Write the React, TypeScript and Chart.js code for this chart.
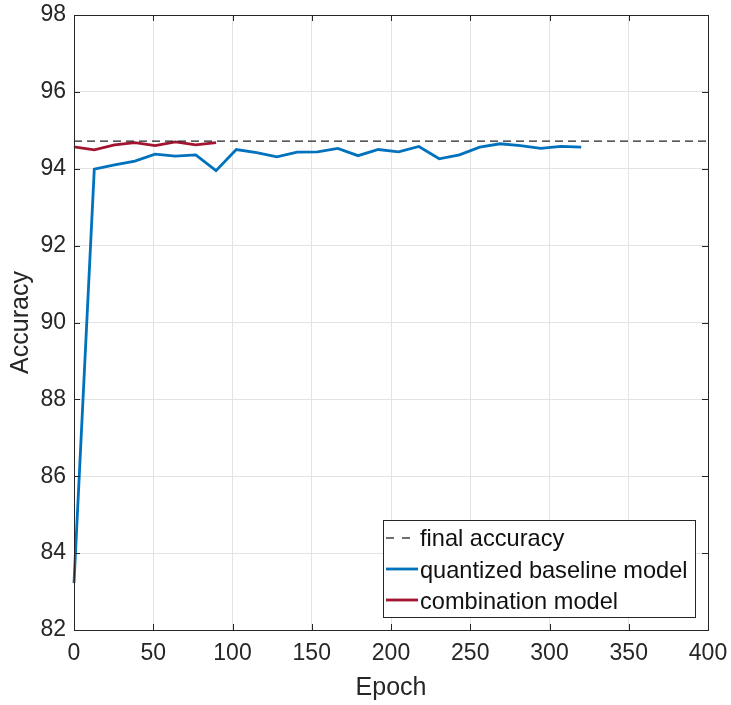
import React, { useEffect, useRef } from 'react';
import { Chart, registerables } from 'chart.js';
Chart.register(...registerables);

const epochs = [0, 12.8, 25.6, 38.4, 51.2, 64, 76.8, 89.6, 102.4, 115.2, 128, 140.8, 153.6, 166.4, 179.2, 192, 204.8, 217.6, 230.4, 243.2, 256, 268.8, 281.6, 294.4, 307.2, 320];
const baselineAcc = [83.22, 93.99, 94.1, 94.2, 94.38, 94.33, 94.36, 93.95, 94.5, 94.42, 94.31, 94.43, 94.44, 94.53, 94.34, 94.5, 94.44, 94.58, 94.26, 94.36, 94.56, 94.65, 94.6, 94.53, 94.58, 94.56];
const combinationEpochs = [0, 12.8, 25.6, 38.4, 51.2, 64, 76.8, 89.6];
const combinationAcc = [94.57, 94.49, 94.62, 94.68, 94.6, 94.7, 94.62, 94.68];
const finalAccuracy = 94.72;
const finalRange = [0, 400];
const xTicks = [0, 50, 100, 150, 200, 250, 300, 350, 400];
const yTicks = [82, 84, 86, 88, 90, 92, 94, 96, 98];
const labels = ['final accuracy', 'quantized baseline model', 'combination model'];

const FONT = "'Liberation Sans', Arial, Helvetica, sans-serif";
const INK = '#262626';

const framePlugin = {
  id: 'matlabFrame',
  afterDraw(chart: any) {
    const { ctx, chartArea: a, scales } = chart;
    ctx.save();
    ctx.strokeStyle = INK;
    ctx.lineWidth = 1;
    const tl = 6;
    ctx.beginPath();
    for (const v of xTicks) {
      const px = Math.round(scales.x.getPixelForValue(v)) + 0.5;
      ctx.moveTo(px, a.bottom); ctx.lineTo(px, a.bottom - tl);
      ctx.moveTo(px, a.top); ctx.lineTo(px, a.top + tl);
    }
    for (const v of yTicks) {
      const py = Math.round(scales.y.getPixelForValue(v)) + 0.5;
      ctx.moveTo(a.left, py); ctx.lineTo(a.left + tl, py);
      ctx.moveTo(a.right, py); ctx.lineTo(a.right - tl, py);
    }
    ctx.stroke();
    ctx.strokeRect(Math.round(a.left) + 0.5, Math.round(a.top) + 0.5, Math.round(a.right - a.left), Math.round(a.bottom - a.top));

    // legend
    const bx = 383.5, by = 520.5, bw = 312, bh = 97;
    ctx.fillStyle = '#ffffff';
    ctx.fillRect(bx, by, bw, bh);
    ctx.strokeStyle = INK;
    ctx.strokeRect(bx, by, bw, bh);
    const baselines = [546, 577.5, 609];
    const lineYs = [538, 569, 600];
    ctx.font = `23.6px ${FONT}`;
    ctx.textBaseline = 'alphabetic';
    ctx.textAlign = 'left';
    chart.data.datasets.forEach((ds: any, i: number) => {
      ctx.save();
      ctx.strokeStyle = ds.borderColor;
      ctx.lineWidth = ds.borderWidth;
      ctx.setLineDash(ds.borderDash ? [8, 8] : []);
      ctx.beginPath();
      ctx.moveTo(386, lineYs[i]);
      ctx.lineTo(418, lineYs[i]);
      ctx.stroke();
      ctx.restore();
      ctx.fillStyle = '#111111';
      ctx.fillText(ds.label, 420, baselines[i]);
    });
    ctx.restore();
  },
};

export default function App() {
  const ref = useRef<HTMLCanvasElement>(null);
  useEffect(() => {
    document.body.style.margin = '0';
    const chart = new Chart(ref.current!, {
      type: 'line',
      data: {
        datasets: [
          {
            label: labels[0],
            data: finalRange.map((x) => ({ x, y: finalAccuracy })),
            borderColor: '#222222',
            borderWidth: 1.3,
            borderDash: [8, 5],
            pointRadius: 0,
            fill: false,
          },
          {
            label: labels[1],
            data: epochs.map((x, i) => ({ x, y: baselineAcc[i] })),
            borderColor: '#0072BD',
            borderWidth: 2.8,
            pointRadius: 0,
            fill: false,
            clip: false as any,
          },
          {
            label: labels[2],
            data: combinationEpochs.map((x, i) => ({ x, y: combinationAcc[i] })),
            borderColor: '#A2142F',
            borderWidth: 2.8,
            pointRadius: 0,
            fill: false,
            clip: false as any,
          },
        ],
      },
      options: {
        animation: false,
        responsive: false,
        maintainAspectRatio: false,
        layout: { padding: { top: 15, right: 23, left: 0, bottom: 0 } },
        plugins: { legend: { display: false }, tooltip: { enabled: false } },
        scales: {
          x: {
            type: 'linear',
            min: 0,
            max: 400,
            afterBuildTicks: (s: any) => { s.ticks = xTicks.map((v) => ({ value: v })); },
            afterFit: (s: any) => { s.height = 75; s.paddingLeft = 0; s.paddingRight = 0; s.paddingTop = 0; s.paddingBottom = 0; },
            ticks: { font: { family: FONT, size: 23 }, color: INK, padding: 10, maxRotation: 0 },
            grid: { color: '#e3e3e3', drawTicks: false },
            border: { display: false },
            title: { display: true, text: 'Epoch', font: { family: FONT, size: 25 }, color: INK, padding: { top: 0, bottom: 2 } },
          },
          y: {
            type: 'linear',
            min: 82,
            max: 98,
            afterBuildTicks: (s: any) => { s.ticks = yTicks.map((v) => ({ value: v })); },
            afterFit: (s: any) => { s.width = 74; s.paddingLeft = 0; s.paddingRight = 0; s.paddingTop = 0; s.paddingBottom = 0; },
            ticks: { font: { family: FONT, size: 23 }, color: INK, padding: 8 },
            grid: { color: '#e3e3e3', drawTicks: false },
            border: { display: false },
            title: { display: true, text: 'Accuracy', font: { family: FONT, size: 25 }, color: INK, padding: { top: 6, bottom: 0 } },
          },
        },
      },
      plugins: [framePlugin],
    } as any);
    return () => chart.destroy();
  }, []);
  return (
    <div style={{ width: 731, height: 705, background: '#fff' }}>
      <canvas ref={ref} width={731} height={705} style={{ display: 'block', width: 731, height: 705 }} />
    </div>
  );
}
